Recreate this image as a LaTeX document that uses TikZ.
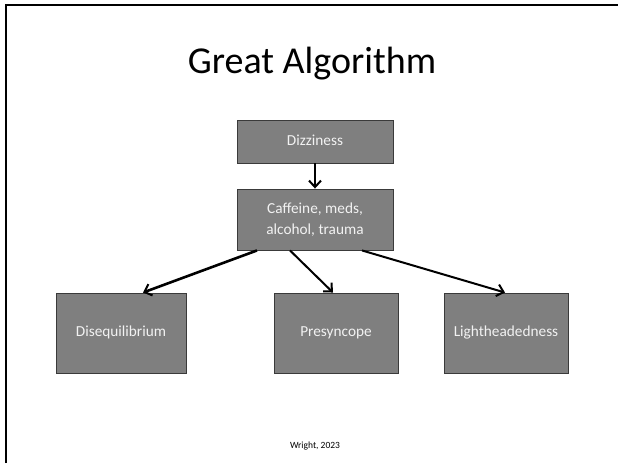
\documentclass[tikz,border=0pt]{standalone}
\usepackage{fontspec}
\setmainfont{Carlito}
\usetikzlibrary{arrows.meta}
\definecolor{boxfill}{HTML}{7F7F7F}
\definecolor{boxline}{HTML}{3A3A3A}
\definecolor{boxtext}{HTML}{F2F2F2}
\tikzset{
  stepbox/.style={draw=boxline, line width=0.9pt, fill=boxfill, text=boxtext,
    font=\fontsize{15.3}{21}\selectfont, align=center, inner sep=0pt},
  oneline/.style={text height=10.5pt, text depth=3.5pt},
  conn/.style={line width=2pt, -{Straight Barb[length=6.5pt,width=12pt,line width=2pt]}},
}
\begin{document}
\begin{tikzpicture}[x=1pt,y=-1pt]
\useasboundingbox (0,0) rectangle (618,463);
\fill[white] (0,0) rectangle (618,463);
\coordinate (fa) at (6,463);
\coordinate (fb) at (6,5);
\coordinate (fc) at (618,5);
\draw[line width=2pt] (fa) -- (fb) -- (fc);
\node[font=\fontsize{38}{41}\selectfont] (title) at (312,64) {Great Algorithm};
\node[stepbox, oneline, minimum width=156pt, minimum height=43pt] (diz) at (315,141.5) {Dizziness};
\node[stepbox, minimum width=156pt, minimum height=61pt] (caf) at (315,219.5) {Caffeine, meds,\\alcohol, trauma};
\node[stepbox, oneline, minimum width=130pt, minimum height=80pt] (dis) at (121,333) {Disequilibrium};
\node[stepbox, oneline, minimum width=124pt, minimum height=80pt] (pre) at (336,333) {Presyncope};
\node[stepbox, oneline, minimum width=124pt, minimum height=80pt] (lig) at (506,333) {Lightheadedness};
\draw[conn] (diz.south) -- (caf.north);
\draw[conn, line width=2.6pt] ([xshift=-58pt]caf.south) -- ([xshift=22pt]dis.north);
\draw[conn] ([xshift=-25pt]caf.south) -- ([xshift=-3pt]pre.north);
\draw[conn] ([xshift=47pt]caf.south) -- ([xshift=-1pt]lig.north);
\node[font=\fontsize{9.5}{11}\selectfont] (foot) at (315,446) {Wright, 2023};
\end{tikzpicture}
\end{document}
